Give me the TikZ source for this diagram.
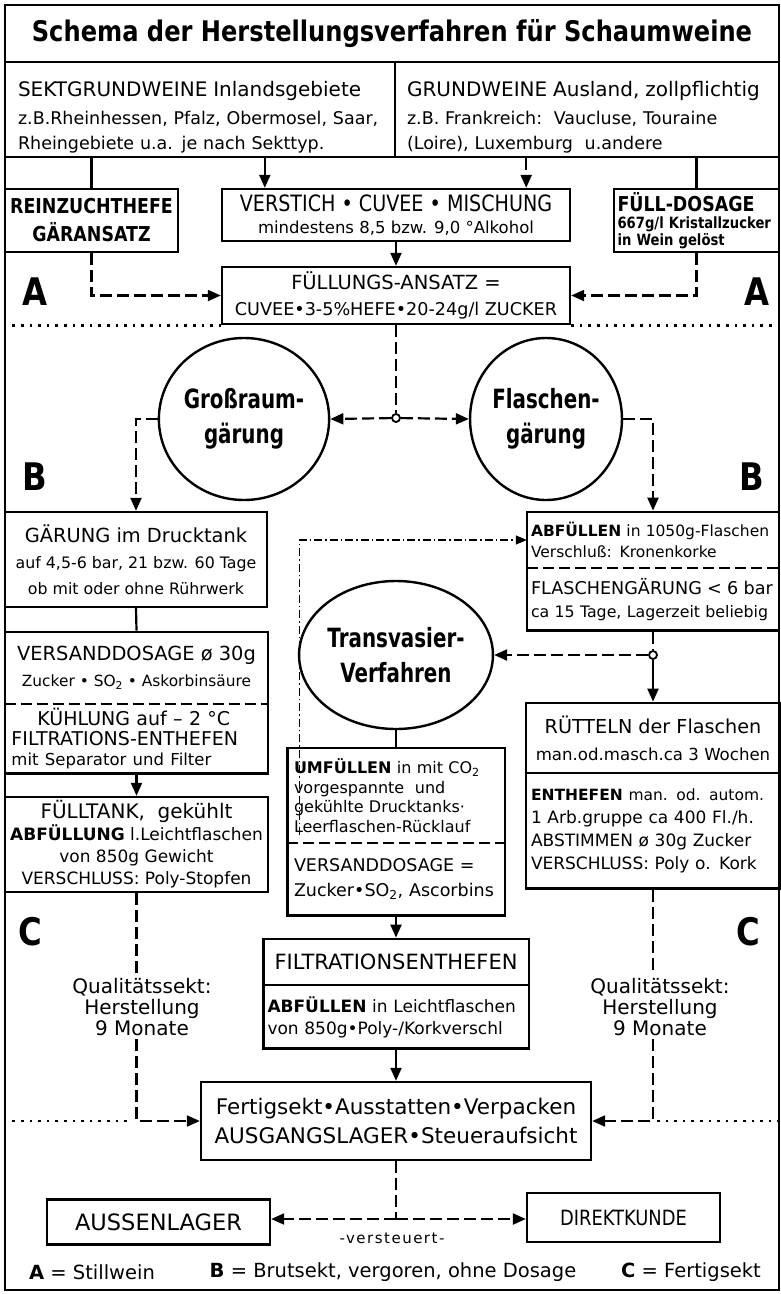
\documentclass[tikz,border=0pt]{standalone}
\usepackage{fontspec}
\setmainfont{DejaVu Sans}
\newfontfamily\condf{DejaVu Sans}[FakeStretch=0.85]
\newfontfamily\narrf{DejaVu Sans}[FakeStretch=0.75]
\usetikzlibrary{arrows.meta,positioning,shapes.geometric,fit,calc}

\begin{document}
\begin{tikzpicture}[x=1pt, y=-1pt,
  frm/.style={draw=black, line width=2.4pt, rectangle, inner sep=0pt},
  kbox/.style={draw=black, line width=2.4pt, rectangle, align=center, inner sep=2pt},
  krow/.style={rectangle, align=center, inner sep=2pt},
  kfit/.style={draw=black, line width=2.4pt, rectangle, inner sep=0pt},
  oval/.style={draw=black, line width=2.4pt, ellipse, align=center, inner sep=0pt,
    font=\narrf\fontsize{26.5}{35}\selectfont\bfseries},
  jct/.style={draw=black, line width=1.8pt, circle, fill=white, inner sep=0pt, minimum size=8pt},
  zone/.style={font=\condf\fontsize{38}{38}\selectfont\bfseries},
  note/.style={align=center, font=\fontsize{20}{21}\selectfont},
  leg/.style={font=\fontsize{19.5}{22}\selectfont},
  ln/.style={line width=2.2pt},
  arr/.style={ln, -{Triangle[length=13pt, width=11pt]}},
  dsh/.style={ln, dash pattern=on 12pt off 5pt},
  darr/.style={dsh, -{Triangle[length=13pt, width=11pt]}},
  ddot/.style={line width=1.2pt, dash pattern=on 8pt off 3pt on 1.5pt off 3pt,
    -{Triangle[length=11pt, width=9pt]}},
  sepdot/.style={line width=2.6pt, dash pattern=on 2.6pt off 6pt},
  sepdash/.style={line width=2pt, dash pattern=on 11pt off 5pt},
  sepline/.style={line width=2pt},
]
\useasboundingbox (0,0) rectangle (780,1294);

%==================== RAHMEN + TITEL ====================
\node[frm, minimum width=774pt, minimum height=1285pt] (frame) at (392,647.5) {};
\node[kbox, minimum width=774pt, minimum height=57pt,
  font=\condf\fontsize{28.4}{30}\selectfont\bfseries] (ttl) at (392,33.5)
  {Schema der Herstellungsverfahren für Schaumweine};

%==================== GRUNDWEINE ====================
\node[kbox, minimum width=390pt, minimum height=95pt, text width=364pt, align=left,
  font=\fontsize{17.5}{25}\selectfont] (srcL) at (200,109.5)
  {\rule{0pt}{30pt}{\fontsize{20}{25}\selectfont SEKTGRUNDWEINE Inlandsgebiete}\\[3pt]
   z.B.Rheinhessen, Pfalz, Obermosel, Saar,\\
   Rheingebiete u.a. je nach Sekttyp.};
\node[kbox, minimum width=384pt, minimum height=95pt, text width=360pt, align=left,
  font=\fontsize{17.5}{25}\selectfont] (srcR) at (587,109.5)
  {\rule{0pt}{30pt}{\fontsize{20}{25}\selectfont GRUNDWEINE Ausland, zollpflichtig}\\[3pt]
   z.B. Frankreich:\ \ Vaucluse, Touraine\\
   (Loire), Luxemburg\ \ u.andere};

%==================== ZEILE A ====================
\node[kbox, minimum width=173pt, minimum height=63pt,
  font=\condf\fontsize{20.5}{28}\selectfont\bfseries] (rz) at (91.5,220.5)
  {REINZUCHTHEFE\\GÄRANSATZ};
\node[kbox, minimum width=348pt, minimum height=52pt,
  font=\fontsize{16.5}{22}\selectfont] (vm) at (396,215)
  {{\condf\fontsize{22.5}{22}\selectfont VERSTICH • CUVEE • MISCHUNG}\\
   mindestens 8,5 bzw. 9,0 °Alkohol};
\node[kbox, minimum width=165pt, minimum height=63pt, text width=158pt, align=left,
  font=\condf\fontsize{15.5}{17}\selectfont\bfseries] (fd) at (696.5,220.5)
  {{\fontsize{20.5}{22}\selectfont FÜLL-DOSAGE}\\ \mbox{667g/l Kristallzucker}\\ in Wein gelöst};
\node[kbox, minimum width=348pt, minimum height=57pt,
  font=\fontsize{17.6}{26}\selectfont] (fa) at (396,295.5)
  {{\fontsize{19.5}{26}\selectfont FÜLLUNGS-ANSATZ =}\\ CUVEE•3-5\%HEFE•20-24g/l ZUCKER};
\node[zone] (zA1) at (35,292) {A};
\node[zone] (zA2) at (757,292) {A};

%==================== ZEILE B: Gaerverfahren ====================
\node[jct] (j1) at (396,418) {};
\node[oval, minimum width=148pt, minimum height=162pt] (gr) at (244,419) {Großraum-\\gärung};
\node[oval, minimum width=148pt, minimum height=162pt] (fl) at (546,419) {Flaschen-\\gärung};
\node[zone] (zB1) at (35,477) {B};
\node[zone] (zB2) at (752,477) {B};

% Grossraumgaerung (links)
\node[kbox, minimum width=262pt, minimum height=95pt,
  font=\fontsize{15.8}{26}\selectfont] (ga) at (136,559.5)
  {{\fontsize{19.4}{26}\selectfont GÄRUNG im Drucktank}\\
   auf 4,5-6 bar, 21 bzw. 60 Tage\\ ob mit oder ohne Rührwerk};
\node[krow, minimum width=263pt, minimum height=72pt,
  font=\fontsize{15.4}{26}\selectfont] (vdT) at (136.5,668)
  {{\fontsize{19.4}{26}\selectfont VERSANDDOSAGE ø 30g}\\
   Zucker • SO\textsubscript{2} • Askorbinsäure};
\node[krow, minimum width=263pt, minimum height=69pt, text width=250pt, align=left,
  font=\fontsize{19}{20}\selectfont, below=0pt of vdT] (vdB)
  {\hspace*{26pt}KÜHLUNG auf – 2 °C\\ FILTRATIONS-ENTHEFEN\\
   {\fontsize{16.5}{18}\selectfont mit Separator und Filter}};
\node[kfit, fit=(vdT)(vdB)] (vd) {};
\draw[sepdash] (vdT.south west) -- (vdT.south east);
\node[kbox, minimum width=263pt, minimum height=95pt,
  font=\fontsize{17}{22}\selectfont] (ft) at (136.5,844.5)
  {{\fontsize{20}{22}\selectfont FÜLLTANK,\ \ gekühlt}\\
   {\bfseries ABFÜLLUNG} l.Leichtflaschen\\ von 850g Gewicht\\ VERSCHLUSS: Poly-Stopfen};

% Flaschengaerung (rechts)
\node[krow, minimum width=252pt, minimum height=56pt, text width=244pt, align=left,
  font=\fontsize{15.5}{21}\selectfont] (abT) at (653,540)
  {\mbox{{\bfseries ABFÜLLEN} in 1050g-Flaschen}\\ Verschluß: Kronenkorke};
\node[krow, minimum width=252pt, minimum height=62pt, text width=244pt, align=left,
  font=\fontsize{15.8}{23}\selectfont, below=0pt of abT] (abB)
  {{\fontsize{17.6}{23}\selectfont FLASCHENGÄRUNG < 6 bar}\\ ca 15 Tage, Lagerzeit beliebig};
\node[kfit, fit=(abT)(abB)] (ab) {};
\draw[sepdash] (abT.south west) -- (abT.south east);
\node[jct] (j2) at (653,655) {};
\node[krow, minimum width=254pt, minimum height=70pt,
  font=\fontsize{16.6}{27}\selectfont] (rtT) at (653,738)
  {{\fontsize{19.2}{27}\selectfont RÜTTELN der Flaschen}\\ man.od.masch.ca 3 Wochen};
\node[krow, minimum width=254pt, minimum height=115pt, text width=244pt, align=left,
  font=\fontsize{17}{23}\selectfont, below=0pt of rtT] (rtB)
  {{\fontsize{15.5}{23}\selectfont{\bfseries ENTHEFEN} man. od. autom.}\\ 1 Arb.gruppe ca 400 Fl./h.\\
   ABSTIMMEN ø 30g Zucker\\ VERSCHLUSS: Poly o. Kork};
\node[kfit, fit=(rtT)(rtB)] (rt) {};
\draw[sepline] (rtT.south west) -- (rtT.south east);

% Transvasierverfahren (Mitte)
\node[oval, minimum width=146pt, minimum height=148pt] (tv) at (396,655) {Transvasier-\\Verfahren};
\node[krow, minimum width=217pt, minimum height=95pt, text width=204pt, align=left,
  font=\fontsize{16}{19.5}\selectfont] (umT) at (396,795.5)
  {{\bfseries UMFÜLLEN} in mit CO\textsubscript{2}\\
   vorgespannte\ \ und\\ gekühlte Drucktanks·\\ Leerflaschen-Rücklauf};
\node[krow, minimum width=217pt, minimum height=72pt, text width=204pt, align=left,
  font=\fontsize{17.5}{25}\selectfont, below=0pt of umT] (umB)
  {VERSANDDOSAGE =\\ Zucker•SO\textsubscript{2}, Ascorbins};
\node[kfit, fit=(umT)(umB)] (um) {};
\draw[sepdash] (umT.south west) -- (umT.south east);
\coordinate (rk) at ([xshift=12pt, yshift=8pt]umT.south west);
\node[krow, minimum width=265pt, minimum height=46pt,
  font=\fontsize{21}{22}\selectfont] (fiT) at (396,962) {FILTRATIONSENTHEFEN};
\node[krow, minimum width=265pt, minimum height=63pt, text width=257pt, align=left,
  font=\fontsize{17}{22}\selectfont, below=0pt of fiT] (fiB)
  {{\bfseries ABFÜLLEN} in Leichtflaschen\\ von 850g•Poly-/Korkverschl};
\node[kfit, fit=(fiT)(fiB)] (fi) {};
\draw[sepline] (fiT.south west) -- (fiT.south east);

%==================== ZEILE C ====================
\node[zone] (zC1) at (30,932) {C};
\node[zone] (zC2) at (748,932) {C};
\node[note] (qL) at (142,1007) {Qualitätssekt:\\Herstellung\\9 Monate};
\node[note] (qR) at (660,1007) {Qualitätssekt:\\Herstellung\\9 Monate};
\node[kbox, minimum width=390pt, minimum height=78pt,
  font=\fontsize{21.5}{29}\selectfont] (fs) at (396,1121)
  {Fertigsekt•Ausstatten•Verpacken\\ AUSGANGSLAGER•Steueraufsicht};

%==================== VERSAND ====================
\coordinate (jb) at (396,1219);
\node[kbox, minimum width=223pt, minimum height=45pt,
  font=\fontsize{22.5}{24}\selectfont] (al) at (158.5,1222) {AUSSENLAGER};
\node[kbox, minimum width=193pt, minimum height=49pt,
  font=\condf\fontsize{21}{22}\selectfont] (dk) at (623.5,1217.5) {DIREKTKUNDE};
\node[font=\fontsize{15}{16}\selectfont\addfontfeatures{LetterSpace=10}] (vs) at (392,1238) {-versteuert-};

%==================== LEGENDE ====================
\node[leg] (lgA) at (92,1272) {{\bfseries A} = Stillwein};
\node[leg] (lgB) at (393,1272) {{\bfseries B} = Brutsekt, vergoren, ohne Dosage};
\node[leg] (lgC) at (691,1272) {{\bfseries C} = Fertigsekt};

%==================== VERBINDUNGEN ====================
\coordinate (vmL) at ([xshift=44pt]vm.north west);
\coordinate (vmR) at ([xshift=-45pt]vm.north east);
\draw[ln] (srcL.south -| rz.north) -- (rz.north);
\draw[arr] (srcL.south -| vmL) -- (vmL);
\draw[darr] (srcR.south -| vmR) -- (vmR);
\draw[ln] (srcR.south -| fd.north) -- (fd.north);
\draw[arr] (vm.south) -- (fa.north);
\draw[darr] (rz.south) |- (fa.west);
\draw[darr] (fd.south) |- (fa.east);

\draw[dsh] (fa.south) -- (j1);
\draw[darr] (j1) -- (gr.east);
\draw[darr] (j1) -- (fl.west);
\draw[darr] (gr.west) -| (ga.north);
\draw[darr] (fl.east) -| (ab.north);

\draw[ln] (ga.south) -- (vd.north);
\draw[arr] (vd.south) -- (ft.north);
\draw[dsh] (ft.south) -- (ft.south |- qL.north);
\draw[darr] (ft.south |- qL.south) |- (fs.west);

\draw[dsh] (ab.south) -- (j2);
\draw[arr] (j2) -- (rt.north);
\draw[darr] (j2) -- (tv.east);
\draw[ddot] (rk) |- (abT.west);
\draw[dsh] (rt.south) -- (rt.south |- qR.north);
\draw[darr] (rt.south |- qR.south) |- (fs.east);

\draw[ln] (tv.south) -- (um.north);
\draw[arr] (um.south) -- (fi.north);
\draw[arr] (fi.south) -- (fs.north);

\draw[dsh] (fs.south) -- (jb);
\draw[darr] (jb) -- (jb -| al.east);
\draw[darr] (jb) -- (jb -| dk.west);

% punktierte Trennlinien
\draw[sepdot] (frame.west |- fa.south) -- (fa.south west);
\draw[sepdot] (fa.south east) -- (frame.east |- fa.south);
\draw[sepdot] (frame.west |- fs.west) -- ([xshift=-4pt]ft.south |- fs.west);
\draw[sepdot] ([xshift=4pt]rt.south |- fs.east) -- (frame.east |- fs.east);

\end{tikzpicture}
\end{document}
